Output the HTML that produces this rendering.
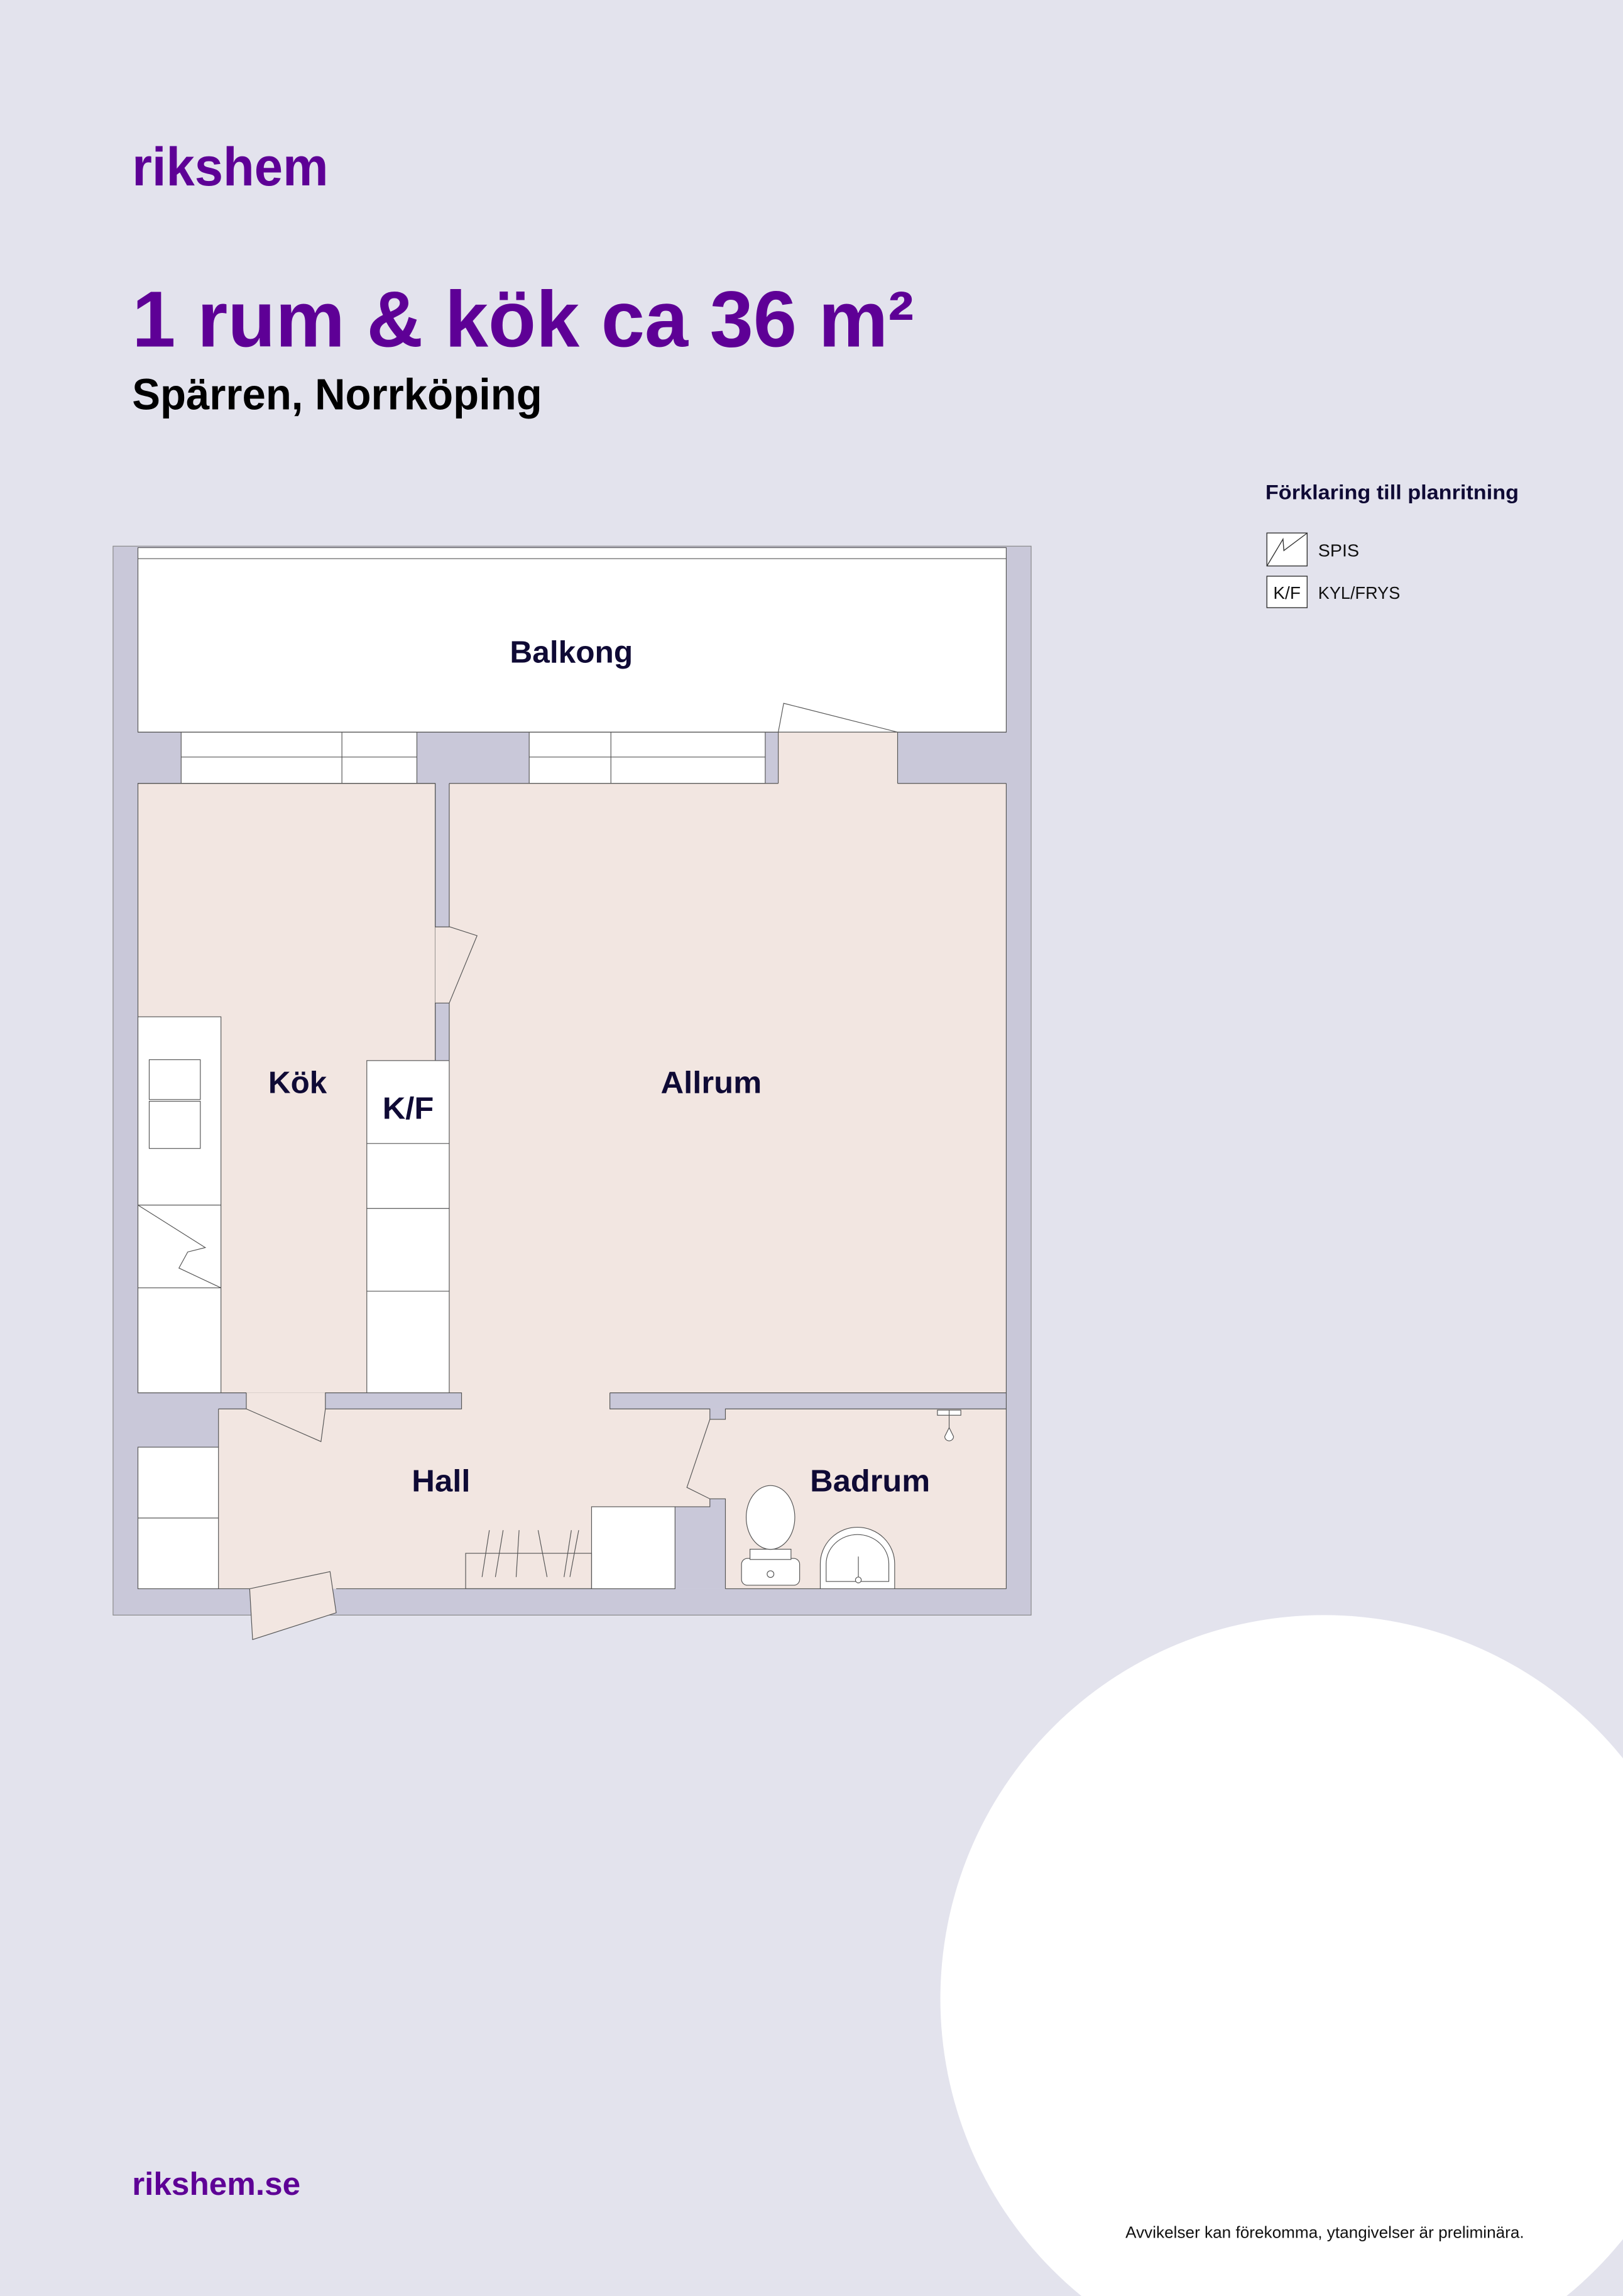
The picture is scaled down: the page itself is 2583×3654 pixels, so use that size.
<!DOCTYPE html>
<html><head><meta charset="utf-8"><style>
html,body{margin:0;padding:0;background:#e3e3ed;}
svg{display:block;}
text{font-family:"Liberation Sans",sans-serif;}
</style></head><body>
<svg width="2583" height="3654" viewBox="0 0 1108 1568" xmlns="http://www.w3.org/2000/svg">
<rect x="0" y="0" width="1108" height="1568" fill="#e3e3ed"/>
<circle cx="904" cy="1365" r="262" fill="#ffffff"/>

<text x="90" y="126.6" font-size="37" font-weight="bold" fill="#5e0096" textLength="134" lengthAdjust="spacingAndGlyphs">rikshem</text>
<text x="90" y="236.7" font-size="54" font-weight="bold" fill="#5e0096" textLength="534" lengthAdjust="spacingAndGlyphs">1 rum &amp; kök ca 36 m²</text>
<text x="90" y="279.6" font-size="30" font-weight="bold" fill="#000" textLength="280" lengthAdjust="spacingAndGlyphs">Spärren, Norrköping</text>

<text x="864" y="341" font-size="14" font-weight="bold" fill="#0f0a35" textLength="173" lengthAdjust="spacingAndGlyphs">Förklaring till planritning</text>
<rect x="865" y="364" width="27.5" height="22.5" fill="#fff" stroke="#333" stroke-width="0.6"/>
<polyline points="865,386.6 876,368.2 876.6,376 892.6,364" fill="none" stroke="#333" stroke-width="0.6"/>
<text x="900" y="380" font-size="12" fill="#111" textLength="28" lengthAdjust="spacingAndGlyphs">SPIS</text>
<rect x="865" y="393.5" width="27.5" height="21.5" fill="#fff" stroke="#333" stroke-width="0.6"/>
<text x="878.7" y="409" font-size="12" fill="#111" text-anchor="middle">K/F</text>
<text x="900" y="409" font-size="12" fill="#111" textLength="56" lengthAdjust="spacingAndGlyphs">KYL/FRYS</text>

<g stroke="#555" stroke-width="0.5">
<rect x="77" y="373" width="627" height="730" fill="#c9c8d9" stroke="#888"/>
<rect x="94" y="374" width="593" height="126" fill="#ffffff"/>
<line x1="94" y1="381.5" x2="687" y2="381.5"/>
<rect x="123.5" y="500" width="161" height="35" fill="#fff"/>
<line x1="123.5" y1="517" x2="284.5" y2="517"/><line x1="233.3" y1="500" x2="233.3" y2="535"/>
<rect x="361.2" y="500" width="161.2" height="35" fill="#fff"/>
<line x1="361.2" y1="517" x2="522.4" y2="517"/><line x1="417" y1="500" x2="417" y2="535"/>
<rect x="94" y="535" width="203" height="416.2" fill="#f2e6e1"/>
<rect x="306.6" y="535" width="380.4" height="416.2" fill="#f2e6e1" stroke="none"/>
<rect x="149" y="962.2" width="538" height="122.8" fill="#f2e6e1" stroke="none"/>
<rect x="168" y="951" width="54" height="11.5" fill="#f2e6e1" stroke="none"/>
<rect x="306.6" y="940" width="109.7" height="22.5" fill="#f2e6e1" stroke="none"/>
<rect x="297" y="633" width="9.6" height="52" fill="#f2e6e1" stroke="none"/>
<rect x="531.3" y="500" width="81.5" height="35.5" fill="#f2e6e1" stroke="none"/>
<!-- walls around bathroom -->
<rect x="484.6" y="962.2" width="10.6" height="7.1" fill="#c9c8d9" stroke="none"/>
<rect x="460.8" y="1029" width="34.4" height="56" fill="#c9c8d9" stroke="none"/>
<rect x="484.6" y="1023.6" width="10.6" height="5.6" fill="#c9c8d9" stroke="none"/>
<line x1="94" y1="535" x2="297" y2="535"/><line x1="306.6" y1="535" x2="531.3" y2="535"/><line x1="612.8" y1="535" x2="687" y2="535"/>
<line x1="94" y1="500" x2="687" y2="500"/>
<line x1="297" y1="535" x2="297" y2="633"/><line x1="306.6" y1="535" x2="306.6" y2="633"/>
<line x1="297" y1="685" x2="297" y2="724"/><line x1="306.6" y1="685" x2="306.6" y2="724"/>
<line x1="297" y1="685" x2="306.6" y2="685"/>
<polyline points="297,633 307,633 325.6,639 306.6,685" fill="none"/>
<polyline points="531.3,535 531.3,500 535,480.3 612.8,500 612.8,535" fill="none"/>
<rect x="94" y="694.4" width="56.7" height="256.8" fill="#fff"/>
<line x1="94" y1="823" x2="150.7" y2="823"/><line x1="94" y1="879.5" x2="150.7" y2="879.5"/>
<rect x="101.7" y="723.7" width="34.9" height="27.2" fill="#fff"/>
<rect x="101.7" y="752.1" width="34.9" height="32.2" fill="#fff"/>
<polyline points="94,823 140,852 128,855 122,866 150.7,879.5" fill="none"/>
<rect x="250.3" y="724.3" width="56.3" height="226.9" fill="#fff"/>
<line x1="250.3" y1="780.9" x2="306.6" y2="780.9"/><line x1="250.3" y1="825.3" x2="306.6" y2="825.3"/><line x1="250.3" y1="881.8" x2="306.6" y2="881.8"/>
<rect x="94" y="951.2" width="74" height="11" fill="#c9c8d9" stroke="none"/>
<rect x="94" y="962.2" width="55" height="25.8" fill="#c9c8d9" stroke="none"/>
<line x1="94" y1="951.2" x2="168" y2="951.2"/><line x1="168" y1="951.2" x2="168" y2="962.2"/>
<line x1="149" y1="962.2" x2="168" y2="962.2"/><line x1="149" y1="962.2" x2="149" y2="988.3"/>
<rect x="222" y="951.2" width="93" height="11" fill="#c9c8d9"/>
<rect x="416.3" y="951.2" width="270.7" height="11" fill="#c9c8d9" stroke="none"/>
<polyline points="416.3,951.2 687,951.2" fill="none"/>
<polyline points="416.3,951.2 416.3,962.2 484.6,962.2 484.6,969.3 495.2,969.3 495.2,962.2 687,962.2" fill="none"/>
<polyline points="168,962.2 219,984.5 222,962.2" fill="none"/>
<polyline points="484.6,969.3 468.9,1015.8 484.6,1023.6 495.2,1023.6 495.2,1085" fill="none"/>
<polyline points="484.6,1023.6 484.6,1029 460.8,1029" fill="none"/>
<line x1="687" y1="535" x2="687" y2="1085"/>
<line x1="94" y1="1085" x2="170.3" y2="1085"/><line x1="229.4" y1="1085" x2="460.8" y2="1085"/><line x1="495.2" y1="1085" x2="687" y2="1085"/>
<rect x="94" y="988.3" width="55" height="96.7" fill="#fff"/>
<line x1="94" y1="1036.7" x2="149" y2="1036.7"/>
<rect x="403.8" y="1029" width="57" height="56" fill="#fff"/>
<rect x="317.8" y="1060.8" width="86" height="24.2" fill="none"/>
<line x1="334" y1="1045" x2="329" y2="1077"/><line x1="343.4" y1="1045" x2="338.1" y2="1077"/>
<line x1="354.3" y1="1045" x2="352.3" y2="1077"/><line x1="367.3" y1="1045" x2="373.4" y2="1077"/>
<line x1="395" y1="1045" x2="389" y2="1077"/><line x1="390" y1="1045" x2="385" y2="1077"/>
<polygon points="170.3,1085 172.3,1119.7 229.4,1101.4 225.2,1073.3" fill="#f2e6e1"/>
<rect x="506.2" y="1064.3" width="39.7" height="18.3" rx="4" fill="#fff"/>
<rect x="512" y="1058" width="28" height="7" fill="#fff"/>
<ellipse cx="526" cy="1036.3" rx="16.6" ry="21.8" fill="#fff"/>
<circle cx="526" cy="1075" r="2.3" fill="#fff"/>
<path d="M560,1085 L560,1068 A25.4,25 0 0 1 610.8,1068 L610.8,1085 Z" fill="#fff"/>
<path d="M564,1080 L564,1068 A21.4,20 0 0 1 606.8,1068 L606.8,1080 Z" fill="none"/>
<line x1="586" y1="1063" x2="586" y2="1077"/><circle cx="586" cy="1079" r="2" fill="#fff"/>
<rect x="640" y="963" width="16" height="3.5" fill="#fff"/>
<line x1="648" y1="963" x2="648" y2="976"/>
<path d="M645,981 L648,975 L651,981 A3,3 0 0 1 645,981 Z" fill="#fff"/>
</g>

<g font-weight="bold" fill="#0f0a35" font-size="21" text-anchor="middle">
<text x="390" y="452.5" textLength="84" lengthAdjust="spacingAndGlyphs">Balkong</text>
<text x="203" y="746.5" textLength="40" lengthAdjust="spacingAndGlyphs">Kök</text>
<text x="278.5" y="764" textLength="35" lengthAdjust="spacingAndGlyphs">K/F</text>
<text x="485.5" y="746.5" textLength="69" lengthAdjust="spacingAndGlyphs">Allrum</text>
<text x="301" y="1018.5" textLength="40" lengthAdjust="spacingAndGlyphs">Hall</text>
<text x="594" y="1018.5" textLength="82" lengthAdjust="spacingAndGlyphs">Badrum</text>
</g>

<text x="90" y="1499" font-size="22" font-weight="bold" fill="#5e0096" textLength="115" lengthAdjust="spacingAndGlyphs">rikshem.se</text>
<text x="768.4" y="1528.4" font-size="11" fill="#111" textLength="272.3" lengthAdjust="spacingAndGlyphs">Avvikelser kan förekomma, ytangivelser är preliminära.</text>
</svg>
</body></html>
